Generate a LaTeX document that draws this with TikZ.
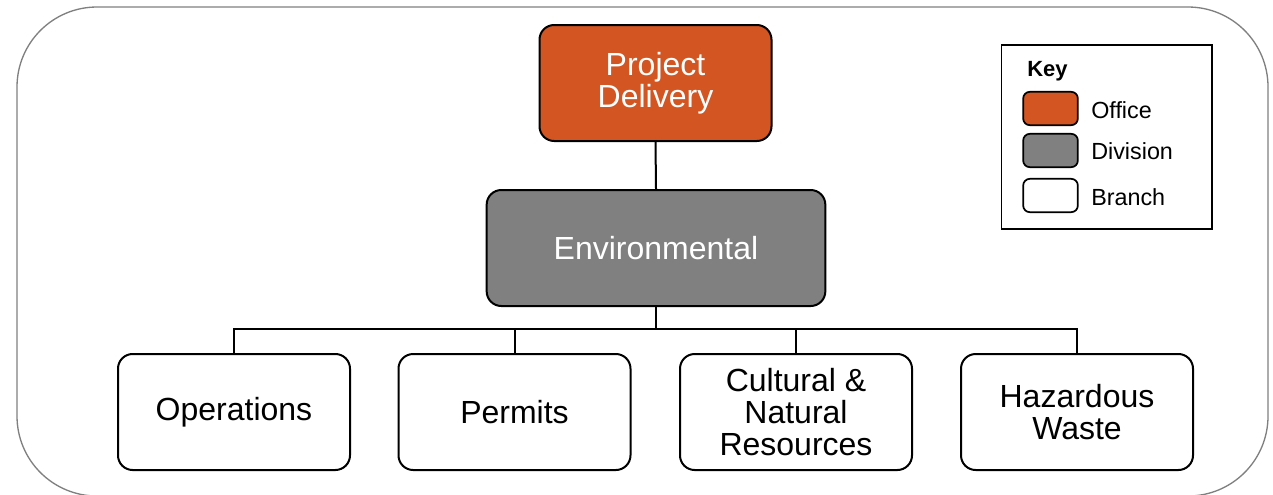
\documentclass[tikz,border=0pt]{standalone}
\usepackage{fontspec}
\setmainfont{Liberation Sans}
\definecolor{office}{HTML}{D35522}
\definecolor{division}{HTML}{808080}
\definecolor{frame}{HTML}{808080}
\begin{document}
\begin{tikzpicture}[x=0.75pt,y=-0.75pt,
  box/.style={draw=black,line width=1.5pt,rounded corners=11pt,align=center,
    font=\fontsize{24}{24}\selectfont,inner sep=0pt},
  officebox/.style={box,fill=office,text=white},
  divbox/.style={box,fill=division,text=white},
  branchbox/.style={box,fill=white,text=black},
  link/.style={draw=black,line width=1.5pt},
  swatch/.style={draw=black,line width=1.3pt,rounded corners=5pt,minimum width=41pt,minimum height=25pt,inner sep=0pt},
  keytext/.style={font=\fontsize{17.5}{20}\selectfont,anchor=west,inner sep=0pt}]
\useasboundingbox (0,0) rectangle (1273,494);
\draw[frame,line width=1pt,rounded corners=60pt] (17,7) rectangle (1268,496);
% main nodes
\node[officebox,minimum width=174pt,minimum height=87pt] (pd) at (655.5,83) {Project\\Delivery};
\node[divbox,minimum width=254pt,minimum height=87pt] (env) at (656,248) {Environmental};
\node[branchbox,minimum width=174pt,minimum height=87pt] (ops) at (234,412) {Operations};
\node[branchbox,minimum width=174pt,minimum height=87pt] (per) at (514.5,412) {Permits};
\node[branchbox,minimum width=174pt,minimum height=87pt] (cul) at (796,412) {Cultural \&\\Natural\\Resources};
\node[branchbox,minimum width=174pt,minimum height=87pt] (haz) at (1077,412) {Hazardous\\Waste};
\coordinate (bus) at (656,329);
\draw[link] (pd.south) -- (env.north);
\draw[link] (env.south) -- (bus);
\foreach \c in {ops,per,cul,haz}{\draw[link] (bus) -| (\c.north);}
% key
\node[draw=black,line width=1pt,minimum width=158pt,minimum height=138pt,inner sep=0pt] (key) at (1106.5,137) {};
\node[keytext,font=\fontsize{16.5}{20}\selectfont\bfseries] (keyt) at (1027,71) {Key};
\node[swatch,fill=office] (s1) at (1050.5,108.5) {};
\node[swatch,fill=division] (s2) at (1050.5,150.5) {};
\node[swatch,fill=white] (s3) at (1050.5,195.5) {};
\node[keytext] (l1) at (1091,110) {Office};
\node[keytext] (l2) at (1091,151) {Division};
\node[keytext] (l3) at (1091,197) {Branch};
\end{tikzpicture}
\end{document}
